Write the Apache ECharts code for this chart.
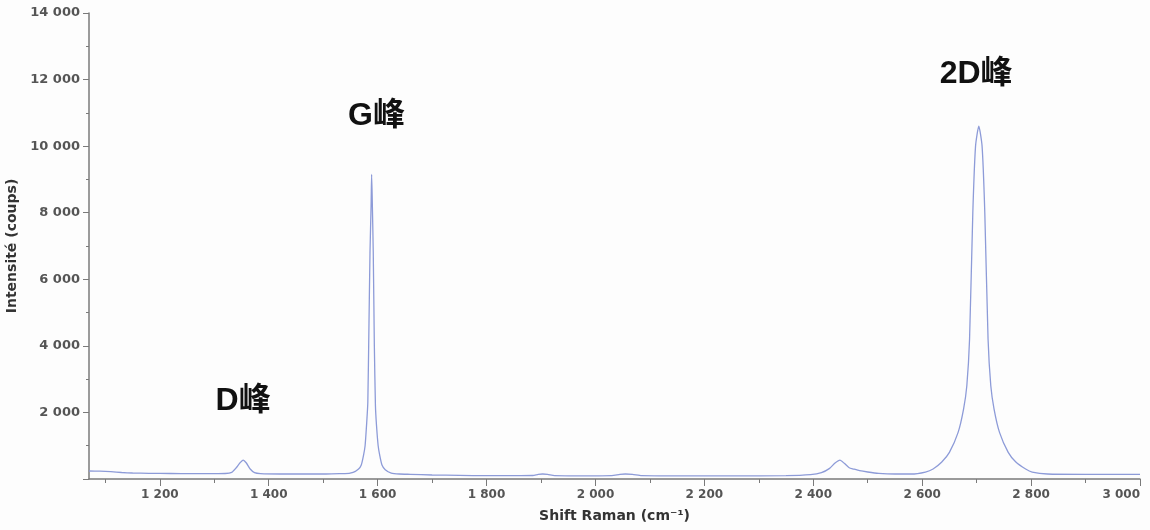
<!DOCTYPE html>
<html>
<head>
<meta charset="utf-8">
<script src="https://cdn.jsdelivr.net/npm/echarts@6/dist/echarts.min.js"></script>
<style>
  html, body { margin: 0; padding: 0; background: #fdfdfd; }
  #chart { width: 1150px; height: 530px; }
</style>
</head>
<body>
<div id="chart"></div>
<script>
// Raman shift (cm-1) and intensity (counts)
var ramanShift = [
    1070, 1090, 1110, 1130, 1150, 1180, 1220, 1260, 1300, 1320,
    1332, 1340, 1347, 1353, 1359, 1366, 1374, 1385, 1420, 1460,
    1500, 1530, 1540, 1555, 1565, 1570, 1574, 1577, 1580, 1582,
    1584, 1586, 1588, 1589, 1590, 1592, 1594, 1596, 1598, 1601,
    1604, 1608, 1614, 1625, 1640, 1660, 1700, 1750, 1800, 1850,
    1885, 1895, 1903, 1912, 1925, 1980, 2030, 2045, 2055, 2068,
    2085, 2150, 2250, 2350, 2395, 2415, 2430, 2440, 2449, 2457,
    2466, 2474, 2485, 2500, 2520, 2550, 2580, 2606, 2620, 2636,
    2650, 2666, 2676, 2682, 2687, 2693, 2698, 2704, 2710, 2715,
    2721, 2726, 2732, 2742, 2758, 2772, 2790, 2802, 2830, 2900,
    3000
];
var intensity = [
    240, 235, 220, 195, 180, 170, 165, 160, 160, 165,
    200, 330, 480, 570, 480, 300, 190, 160, 150, 150,
    150, 160, 160, 200, 300, 420, 700, 1000, 1700, 2300,
    4500, 6800, 8200, 9150, 8500, 6800, 4000, 2200, 1600, 1000,
    700, 420, 280, 180, 150, 140, 120, 110, 100, 100,
    105, 140, 150, 140, 100, 95, 100, 140, 150, 140,
    100, 95, 95, 100, 130, 190, 320, 480, 570, 470,
    340, 300, 250, 210, 170, 150, 150, 210, 300, 510,
    800, 1400, 2100, 2800, 4200, 8000, 10000, 10600, 10000, 8000,
    4200, 2800, 2100, 1400, 800, 510, 300, 210, 150, 140,
    140
];

// axis ticks
var xTickValues = [1200, 1400, 1600, 1800, 2000, 2200, 2400, 2600, 2800, 3000];
var xMinorValues = [1100, 1300, 1500, 1700, 1900, 2100, 2300, 2500, 2700, 2900];

// peak labels: [shift, intensity, text]
var peakLabels = [
    [1353, 2350, 'D峰'],
    [1598, 10900, 'G峰'],
    [2699, 12150, '2D峰']
];

function fmtThousands(v) {
    return String(v).replace(/\B(?=(\d{3})+(?!\d))/g, ' ');
}

var axisColor = '#7a7a7a';
var labelFont = 'DejaVu Sans';

var chart = echarts.init(document.getElementById('chart'));
var option = {
    animation: false,
    backgroundColor: '#fdfdfd',
    grid: { left: 89, right: 10, top: 13, bottom: 51, outerBoundsMode: 'none', containLabel: false },
    xAxis: [{
        type: 'value',
        min: 1070,
        max: 3000,
        position: 'bottom',
        name: 'Shift Raman (cm⁻¹)',
        nameLocation: 'middle',
        nameGap: 30,
        nameTextStyle: { fontFamily: labelFont, fontWeight: 'bold', fontSize: 14, color: '#333' },
        axisLine: { lineStyle: { color: axisColor, width: 1.5 } },
        axisTick: { show: true, length: 7, customValues: xTickValues, lineStyle: { color: axisColor } },
        axisLabel: {
            customValues: xTickValues,
            formatter: fmtThousands,
            alignMaxLabel: 'right',
            fontFamily: labelFont, fontWeight: 'bold', fontSize: 12, color: '#555', margin: 10
        },
        splitLine: { show: false }
    }, {
        type: 'value',
        min: 1070,
        max: 3000,
        position: 'bottom',
        axisLine: { show: false },
        axisTick: { show: true, length: 4, customValues: xMinorValues, lineStyle: { color: axisColor } },
        axisLabel: { show: false },
        splitLine: { show: false }
    }],
    yAxis: {
        type: 'value',
        min: 0,
        max: 14000,
        interval: 2000,
        name: 'Intensité (coups)',
        nameLocation: 'middle',
        nameGap: 61,
        nameRotate: 90,
        nameTextStyle: { fontFamily: labelFont, fontWeight: 'bold', fontSize: 14, color: '#333' },
        axisLine: { show: true, lineStyle: { color: axisColor, width: 1.5 } },
        axisTick: { show: true, length: 6, lineStyle: { color: axisColor } },
        minorTick: { show: true, splitNumber: 2, length: 3, lineStyle: { color: axisColor } },
        axisLabel: {
            showMinLabel: false,
            formatter: fmtThousands,
            fontFamily: labelFont, fontWeight: 'bold', fontSize: 13, color: '#555', margin: 9
        },
        splitLine: { show: false }
    },
    series: [{
        type: 'line',
        data: ramanShift.map(function (x, i) { return [x, intensity[i]]; }),
        showSymbol: false,
        smooth: 0.2,
        lineStyle: { color: '#8d9bd8', width: 1.3 },
        markPoint: {
            symbol: 'circle',
            symbolSize: 0,
            label: {
                show: true,
                position: 'inside',
                formatter: '{b}',
                fontFamily: "'Liberation Sans', 'Noto Sans CJK SC', sans-serif",
                fontWeight: 'bold',
                fontSize: 32,
                color: '#111'
            },
            data: peakLabels.map(function (p) {
                return { name: p[2], coord: [p[0], p[1]] };
            })
        }
    }]
};
chart.setOption(option);
</script>
</body>
</html>
